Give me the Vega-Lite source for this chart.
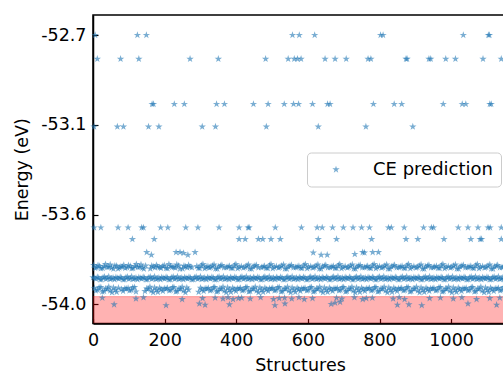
{
"$schema":"https://vega.github.io/schema/vega-lite/v6.json",
"width":414,"height":308.5,
"autosize":{"type":"none"},
"padding":{"left":93,"top":15,"right":0,"bottom":51},
"background":"white",
"config":{"view":{"stroke":"black","strokeWidth":1.5},"font":"DejaVu Sans",
"axis":{"grid":false,"domainColor":"black","domainWidth":1.5,"tickColor":"black","tickWidth":1.2,"tickSize":-5,"labelFont":"DejaVu Sans","titleFont":"DejaVu Sans","labelFontSize":17.5,"titleFontSize":17.5,"titleFontWeight":"normal","labelColor":"black","titleColor":"black","labelFlush":false,"labelOverlap":false}},
"datasets":{"e":[
{"x":6,"y":-52.7},{"x":124,"y":-52.7},{"x":149,"y":-52.7},{"x":557,"y":-52.7},{"x":576,"y":-52.7},{"x":619,"y":-52.7},{"x":803,"y":-52.7},{"x":810,"y":-52.7},{"x":1034,"y":-52.7},{"x":1104,"y":-52.7},{"x":1107,"y":-52.7},
{"x":12,"y":-52.815},{"x":77,"y":-52.815},{"x":128,"y":-52.815},{"x":271,"y":-52.815},{"x":350,"y":-52.815},{"x":482,"y":-52.815},{"x":545,"y":-52.815},{"x":562,"y":-52.815},{"x":571,"y":-52.815},{"x":581,"y":-52.815},{"x":648,"y":-52.815},{"x":676,"y":-52.815},{"x":707,"y":-52.815},{"x":768,"y":-52.815},{"x":776,"y":-52.815},{"x":874,"y":-52.815},{"x":877,"y":-52.815},{"x":938,"y":-52.815},{"x":943,"y":-52.815},{"x":985,"y":-52.815},{"x":1012,"y":-52.815},{"x":1089,"y":-52.815},{"x":1140,"y":-52.815},
{"x":165,"y":-53.033},{"x":169,"y":-53.033},{"x":227,"y":-53.033},{"x":255,"y":-53.033},{"x":345,"y":-53.033},{"x":367,"y":-53.033},{"x":448,"y":-53.033},{"x":489,"y":-53.033},{"x":534,"y":-53.033},{"x":560,"y":-53.033},{"x":574,"y":-53.033},{"x":613,"y":-53.033},{"x":655,"y":-53.033},{"x":662,"y":-53.033},{"x":783,"y":-53.033},{"x":841,"y":-53.033},{"x":862,"y":-53.033},{"x":978,"y":-53.033},{"x":1031,"y":-53.033},{"x":1041,"y":-53.033},{"x":1108,"y":-53.033},{"x":1112,"y":-53.033},
{"x":3,"y":-53.142},{"x":68,"y":-53.142},{"x":85,"y":-53.142},{"x":155,"y":-53.142},{"x":184,"y":-53.142},{"x":305,"y":-53.142},{"x":342,"y":-53.142},{"x":484,"y":-53.142},{"x":629,"y":-53.142},{"x":762,"y":-53.142},{"x":893,"y":-53.142},
{"x":3,"y":-53.629},{"x":22,"y":-53.629},{"x":70,"y":-53.629},{"x":98,"y":-53.629},{"x":136,"y":-53.629},{"x":141,"y":-53.629},{"x":189,"y":-53.629},{"x":209,"y":-53.629},{"x":259,"y":-53.629},{"x":293,"y":-53.629},{"x":352,"y":-53.629},{"x":408,"y":-53.629},{"x":433,"y":-53.629},{"x":436,"y":-53.629},{"x":509,"y":-53.629},{"x":582,"y":-53.629},{"x":626,"y":-53.629},{"x":640,"y":-53.629},{"x":669,"y":-53.629},{"x":699,"y":-53.629},{"x":726,"y":-53.629},{"x":750,"y":-53.629},{"x":772,"y":-53.629},{"x":825,"y":-53.629},{"x":833,"y":-53.629},{"x":869,"y":-53.629},{"x":923,"y":-53.629},{"x":945,"y":-53.629},{"x":951,"y":-53.629},{"x":1020,"y":-53.629},{"x":1047,"y":-53.629},{"x":1075,"y":-53.629},{"x":1103,"y":-53.629},{"x":1109,"y":-53.629},{"x":1140,"y":-53.629},
{"x":110,"y":-53.685},{"x":171,"y":-53.685},{"x":408,"y":-53.685},{"x":425,"y":-53.685},{"x":462,"y":-53.685},{"x":474,"y":-53.685},{"x":497,"y":-53.685},{"x":523,"y":-53.685},{"x":629,"y":-53.685},{"x":680,"y":-53.685},{"x":778,"y":-53.685},{"x":874,"y":-53.685},{"x":907,"y":-53.685},{"x":980,"y":-53.685},{"x":1055,"y":-53.685},{"x":1081,"y":-53.685},{"x":1085,"y":-53.685},{"x":1140,"y":-53.685},
{"x":150,"y":-53.748},{"x":163,"y":-53.761},{"x":232,"y":-53.748},{"x":243,"y":-53.748},{"x":253,"y":-53.752},{"x":265,"y":-53.761},{"x":285,"y":-53.748},{"x":615,"y":-53.75},{"x":637,"y":-53.761},{"x":654,"y":-53.761},{"x":731,"y":-53.757},{"x":753,"y":-53.748},{"x":758,"y":-53.75},{"x":781,"y":-53.748},{"x":797,"y":-53.748},
{"x":2,"y":-53.81},{"x":10,"y":-53.821},{"x":18,"y":-53.815},{"x":27,"y":-53.825},{"x":35,"y":-53.806},{"x":44,"y":-53.819},{"x":52,"y":-53.823},{"x":61,"y":-53.813},{"x":70,"y":-53.827},{"x":78,"y":-53.817},
{"x":86,"y":-53.81},{"x":95,"y":-53.821},{"x":104,"y":-53.815},{"x":112,"y":-53.825},{"x":121,"y":-53.806},{"x":130,"y":-53.819},{"x":138,"y":-53.823},{"x":147,"y":-53.813},{"x":160,"y":-53.827},{"x":168,"y":-53.817},
{"x":177,"y":-53.81},{"x":186,"y":-53.821},{"x":195,"y":-53.815},{"x":204,"y":-53.825},{"x":212,"y":-53.806},{"x":221,"y":-53.819},{"x":230,"y":-53.823},{"x":239,"y":-53.813},{"x":250,"y":-53.827},{"x":258,"y":-53.817},
{"x":267,"y":-53.81},{"x":276,"y":-53.821},{"x":290,"y":-53.815},{"x":298,"y":-53.825},{"x":307,"y":-53.806},{"x":316,"y":-53.819},{"x":325,"y":-53.823},{"x":334,"y":-53.813},{"x":342,"y":-53.827},{"x":351,"y":-53.817},
{"x":360,"y":-53.81},{"x":372,"y":-53.821},{"x":381,"y":-53.815},{"x":390,"y":-53.825},{"x":399,"y":-53.806},{"x":408,"y":-53.819},{"x":420,"y":-53.823},{"x":430,"y":-53.813},{"x":438,"y":-53.827},{"x":447,"y":-53.817},
{"x":456,"y":-53.81},{"x":470,"y":-53.821},{"x":479,"y":-53.815},{"x":488,"y":-53.825},{"x":497,"y":-53.806},{"x":506,"y":-53.819},{"x":518,"y":-53.823},{"x":527,"y":-53.813},{"x":536,"y":-53.827},{"x":545,"y":-53.817},
{"x":554,"y":-53.81},{"x":566,"y":-53.821},{"x":575,"y":-53.815},{"x":584,"y":-53.825},{"x":593,"y":-53.806},{"x":602,"y":-53.819},{"x":614,"y":-53.823},{"x":623,"y":-53.813},{"x":632,"y":-53.827},{"x":641,"y":-53.817},
{"x":650,"y":-53.81},{"x":662,"y":-53.821},{"x":671,"y":-53.815},{"x":680,"y":-53.825},{"x":689,"y":-53.806},{"x":698,"y":-53.819},{"x":710,"y":-53.823},{"x":719,"y":-53.813},{"x":728,"y":-53.827},{"x":737,"y":-53.817},
{"x":746,"y":-53.81},{"x":758,"y":-53.821},{"x":767,"y":-53.815},{"x":776,"y":-53.825},{"x":785,"y":-53.806},{"x":794,"y":-53.819},{"x":806,"y":-53.823},{"x":815,"y":-53.813},{"x":824,"y":-53.827},{"x":833,"y":-53.817},
{"x":842,"y":-53.81},{"x":854,"y":-53.821},{"x":863,"y":-53.815},{"x":872,"y":-53.825},{"x":881,"y":-53.806},{"x":890,"y":-53.819},{"x":902,"y":-53.823},{"x":911,"y":-53.813},{"x":920,"y":-53.827},{"x":929,"y":-53.817},
{"x":938,"y":-53.81},{"x":950,"y":-53.821},{"x":959,"y":-53.815},{"x":968,"y":-53.825},{"x":977,"y":-53.806},{"x":986,"y":-53.819},{"x":998,"y":-53.823},{"x":1007,"y":-53.813},{"x":1016,"y":-53.827},{"x":1025,"y":-53.817},
{"x":1034,"y":-53.81},{"x":1046,"y":-53.821},{"x":1055,"y":-53.815},{"x":1064,"y":-53.825},{"x":1073,"y":-53.806},{"x":1082,"y":-53.819},{"x":1094,"y":-53.823},{"x":1103,"y":-53.813},{"x":1112,"y":-53.827},{"x":1121,"y":-53.817},
{"x":1130,"y":-53.81},{"x":1142,"y":-53.821},{"x":1151,"y":-53.815},
{"x":6,"y":-53.824},{"x":14,"y":-53.811},{"x":22,"y":-53.826},{"x":31,"y":-53.816},{"x":40,"y":-53.82},{"x":48,"y":-53.808},{"x":57,"y":-53.828},{"x":66,"y":-53.814},{"x":74,"y":-53.822},{"x":82,"y":-53.818},
{"x":90,"y":-53.824},{"x":99,"y":-53.811},{"x":108,"y":-53.826},{"x":117,"y":-53.816},{"x":125,"y":-53.82},{"x":134,"y":-53.808},{"x":142,"y":-53.828},{"x":164,"y":-53.814},{"x":173,"y":-53.822},{"x":181,"y":-53.818},
{"x":190,"y":-53.824},{"x":199,"y":-53.811},{"x":208,"y":-53.826},{"x":217,"y":-53.816},{"x":226,"y":-53.82},{"x":234,"y":-53.808},{"x":243,"y":-53.828},{"x":254,"y":-53.814},{"x":263,"y":-53.822},{"x":271,"y":-53.818},
{"x":294,"y":-53.824},{"x":303,"y":-53.811},{"x":312,"y":-53.826},{"x":321,"y":-53.816},{"x":329,"y":-53.82},{"x":338,"y":-53.808},{"x":347,"y":-53.828},{"x":356,"y":-53.814},{"x":366,"y":-53.822},{"x":377,"y":-53.818},
{"x":386,"y":-53.824},{"x":395,"y":-53.811},{"x":404,"y":-53.826},{"x":414,"y":-53.816},{"x":425,"y":-53.82},{"x":434,"y":-53.808},{"x":443,"y":-53.828},{"x":452,"y":-53.814},{"x":462,"y":-53.822},{"x":475,"y":-53.818},
{"x":484,"y":-53.824},{"x":493,"y":-53.811},{"x":502,"y":-53.826},{"x":512,"y":-53.816},{"x":522,"y":-53.82},{"x":532,"y":-53.808},{"x":541,"y":-53.828},{"x":550,"y":-53.814},{"x":560,"y":-53.822},{"x":570,"y":-53.818},
{"x":580,"y":-53.824},{"x":589,"y":-53.811},{"x":598,"y":-53.826},{"x":608,"y":-53.816},{"x":618,"y":-53.82},{"x":628,"y":-53.808},{"x":637,"y":-53.828},{"x":646,"y":-53.814},{"x":656,"y":-53.822},{"x":667,"y":-53.818},
{"x":676,"y":-53.824},{"x":685,"y":-53.811},{"x":694,"y":-53.826},{"x":704,"y":-53.816},{"x":714,"y":-53.82},{"x":724,"y":-53.808},{"x":733,"y":-53.828},{"x":742,"y":-53.814},{"x":752,"y":-53.822},{"x":763,"y":-53.818},
{"x":772,"y":-53.824},{"x":781,"y":-53.811},{"x":790,"y":-53.826},{"x":800,"y":-53.816},{"x":810,"y":-53.82},{"x":820,"y":-53.808},{"x":829,"y":-53.828},{"x":838,"y":-53.814},{"x":848,"y":-53.822},{"x":858,"y":-53.818},
{"x":868,"y":-53.824},{"x":877,"y":-53.811},{"x":886,"y":-53.826},{"x":896,"y":-53.816},{"x":906,"y":-53.82},{"x":916,"y":-53.808},{"x":925,"y":-53.828},{"x":934,"y":-53.814},{"x":944,"y":-53.822},{"x":954,"y":-53.818},
{"x":964,"y":-53.824},{"x":973,"y":-53.811},{"x":982,"y":-53.826},{"x":992,"y":-53.816},{"x":1002,"y":-53.82},{"x":1012,"y":-53.808},{"x":1021,"y":-53.828},{"x":1030,"y":-53.814},{"x":1040,"y":-53.822},{"x":1050,"y":-53.818},
{"x":1060,"y":-53.824},{"x":1069,"y":-53.811},{"x":1078,"y":-53.826},{"x":1088,"y":-53.816},{"x":1098,"y":-53.82},{"x":1108,"y":-53.808},{"x":1117,"y":-53.828},{"x":1126,"y":-53.814},{"x":1136,"y":-53.822},{"x":1146,"y":-53.818},
{"x":0,"y":-53.869},{"x":8,"y":-53.876},{"x":16,"y":-53.872},{"x":24,"y":-53.879},{"x":32,"y":-53.867},{"x":40,"y":-53.874},{"x":48,"y":-53.878},{"x":56,"y":-53.871},
{"x":64,"y":-53.869},{"x":72,"y":-53.876},{"x":80,"y":-53.872},{"x":88,"y":-53.879},{"x":96,"y":-53.867},{"x":104,"y":-53.874},{"x":112,"y":-53.878},{"x":120,"y":-53.871},
{"x":128,"y":-53.869},{"x":136,"y":-53.876},{"x":144,"y":-53.872},{"x":152,"y":-53.879},{"x":160,"y":-53.867},{"x":168,"y":-53.874},{"x":176,"y":-53.878},{"x":184,"y":-53.871},
{"x":192,"y":-53.869},{"x":200,"y":-53.876},{"x":208,"y":-53.872},{"x":216,"y":-53.879},{"x":224,"y":-53.867},{"x":232,"y":-53.874},{"x":240,"y":-53.878},{"x":248,"y":-53.871},
{"x":256,"y":-53.869},{"x":264,"y":-53.876},{"x":272,"y":-53.872},{"x":280,"y":-53.879},{"x":288,"y":-53.867},{"x":296,"y":-53.874},{"x":304,"y":-53.878},{"x":312,"y":-53.871},
{"x":320,"y":-53.869},{"x":328,"y":-53.876},{"x":336,"y":-53.872},{"x":344,"y":-53.879},{"x":352,"y":-53.867},{"x":360,"y":-53.874},{"x":368,"y":-53.878},{"x":376,"y":-53.871},
{"x":384,"y":-53.869},{"x":392,"y":-53.876},{"x":400,"y":-53.872},{"x":408,"y":-53.879},{"x":416,"y":-53.867},{"x":424,"y":-53.874},{"x":432,"y":-53.878},{"x":440,"y":-53.871},
{"x":448,"y":-53.869},{"x":456,"y":-53.876},{"x":464,"y":-53.872},{"x":472,"y":-53.879},{"x":480,"y":-53.867},{"x":488,"y":-53.874},{"x":496,"y":-53.878},{"x":504,"y":-53.871},
{"x":512,"y":-53.869},{"x":520,"y":-53.876},{"x":528,"y":-53.872},{"x":536,"y":-53.879},{"x":544,"y":-53.867},{"x":552,"y":-53.874},{"x":560,"y":-53.878},{"x":568,"y":-53.871},
{"x":576,"y":-53.869},{"x":584,"y":-53.876},{"x":592,"y":-53.872},{"x":600,"y":-53.879},{"x":608,"y":-53.867},{"x":616,"y":-53.874},{"x":624,"y":-53.878},{"x":632,"y":-53.871},
{"x":640,"y":-53.869},{"x":648,"y":-53.876},{"x":656,"y":-53.872},{"x":664,"y":-53.879},{"x":672,"y":-53.867},{"x":680,"y":-53.874},{"x":688,"y":-53.878},{"x":696,"y":-53.871},
{"x":704,"y":-53.869},{"x":712,"y":-53.876},{"x":720,"y":-53.872},{"x":728,"y":-53.879},{"x":736,"y":-53.867},{"x":744,"y":-53.874},{"x":752,"y":-53.878},{"x":760,"y":-53.871},
{"x":768,"y":-53.869},{"x":776,"y":-53.876},{"x":784,"y":-53.872},{"x":792,"y":-53.879},{"x":800,"y":-53.867},{"x":808,"y":-53.874},{"x":816,"y":-53.878},{"x":824,"y":-53.871},
{"x":832,"y":-53.869},{"x":840,"y":-53.876},{"x":848,"y":-53.872},{"x":856,"y":-53.879},{"x":864,"y":-53.867},{"x":872,"y":-53.874},{"x":880,"y":-53.878},{"x":888,"y":-53.871},
{"x":896,"y":-53.869},{"x":904,"y":-53.876},{"x":912,"y":-53.872},{"x":920,"y":-53.879},{"x":928,"y":-53.867},{"x":936,"y":-53.874},{"x":944,"y":-53.878},{"x":952,"y":-53.871},
{"x":960,"y":-53.869},{"x":968,"y":-53.876},{"x":976,"y":-53.872},{"x":984,"y":-53.879},{"x":992,"y":-53.867},{"x":1000,"y":-53.874},{"x":1008,"y":-53.878},{"x":1016,"y":-53.871},
{"x":1024,"y":-53.869},{"x":1032,"y":-53.876},{"x":1040,"y":-53.872},{"x":1048,"y":-53.879},{"x":1056,"y":-53.867},{"x":1064,"y":-53.874},{"x":1072,"y":-53.878},{"x":1080,"y":-53.871},
{"x":1088,"y":-53.869},{"x":1096,"y":-53.876},{"x":1104,"y":-53.872},{"x":1112,"y":-53.879},{"x":1120,"y":-53.867},{"x":1128,"y":-53.874},{"x":1136,"y":-53.878},{"x":1144,"y":-53.871},{"x":1152,"y":-53.869},
{"x":4,"y":-53.873},{"x":12,"y":-53.868},{"x":20,"y":-53.88},{"x":28,"y":-53.87},{"x":36,"y":-53.877},{"x":44,"y":-53.866},{"x":52,"y":-53.875},{"x":60,"y":-53.879},
{"x":68,"y":-53.873},{"x":76,"y":-53.868},{"x":84,"y":-53.88},{"x":92,"y":-53.87},{"x":100,"y":-53.877},{"x":108,"y":-53.866},{"x":116,"y":-53.875},{"x":124,"y":-53.879},
{"x":132,"y":-53.873},{"x":140,"y":-53.868},{"x":148,"y":-53.88},{"x":156,"y":-53.87},{"x":164,"y":-53.877},{"x":172,"y":-53.866},{"x":180,"y":-53.875},{"x":188,"y":-53.879},
{"x":196,"y":-53.873},{"x":204,"y":-53.868},{"x":212,"y":-53.88},{"x":220,"y":-53.87},{"x":228,"y":-53.877},{"x":236,"y":-53.866},{"x":244,"y":-53.875},{"x":252,"y":-53.879},
{"x":260,"y":-53.873},{"x":268,"y":-53.868},{"x":276,"y":-53.88},{"x":284,"y":-53.87},{"x":292,"y":-53.877},{"x":300,"y":-53.866},{"x":308,"y":-53.875},{"x":316,"y":-53.879},
{"x":324,"y":-53.873},{"x":332,"y":-53.868},{"x":340,"y":-53.88},{"x":348,"y":-53.87},{"x":356,"y":-53.877},{"x":364,"y":-53.866},{"x":372,"y":-53.875},{"x":380,"y":-53.879},
{"x":388,"y":-53.873},{"x":396,"y":-53.868},{"x":404,"y":-53.88},{"x":412,"y":-53.87},{"x":420,"y":-53.877},{"x":428,"y":-53.866},{"x":436,"y":-53.875},{"x":444,"y":-53.879},
{"x":452,"y":-53.873},{"x":460,"y":-53.868},{"x":468,"y":-53.88},{"x":476,"y":-53.87},{"x":484,"y":-53.877},{"x":492,"y":-53.866},{"x":500,"y":-53.875},{"x":508,"y":-53.879},
{"x":516,"y":-53.873},{"x":524,"y":-53.868},{"x":532,"y":-53.88},{"x":540,"y":-53.87},{"x":548,"y":-53.877},{"x":556,"y":-53.866},{"x":564,"y":-53.875},{"x":572,"y":-53.879},
{"x":580,"y":-53.873},{"x":588,"y":-53.868},{"x":596,"y":-53.88},{"x":604,"y":-53.87},{"x":612,"y":-53.877},{"x":620,"y":-53.866},{"x":628,"y":-53.875},{"x":636,"y":-53.879},
{"x":644,"y":-53.873},{"x":652,"y":-53.868},{"x":660,"y":-53.88},{"x":668,"y":-53.87},{"x":676,"y":-53.877},{"x":684,"y":-53.866},{"x":692,"y":-53.875},{"x":700,"y":-53.879},
{"x":708,"y":-53.873},{"x":716,"y":-53.868},{"x":724,"y":-53.88},{"x":732,"y":-53.87},{"x":740,"y":-53.877},{"x":748,"y":-53.866},{"x":756,"y":-53.875},{"x":764,"y":-53.879},
{"x":772,"y":-53.873},{"x":780,"y":-53.868},{"x":788,"y":-53.88},{"x":796,"y":-53.87},{"x":804,"y":-53.877},{"x":812,"y":-53.866},{"x":820,"y":-53.875},{"x":828,"y":-53.879},
{"x":836,"y":-53.873},{"x":844,"y":-53.868},{"x":852,"y":-53.88},{"x":860,"y":-53.87},{"x":868,"y":-53.877},{"x":876,"y":-53.866},{"x":884,"y":-53.875},{"x":892,"y":-53.879},
{"x":900,"y":-53.873},{"x":908,"y":-53.868},{"x":916,"y":-53.88},{"x":924,"y":-53.87},{"x":932,"y":-53.877},{"x":940,"y":-53.866},{"x":948,"y":-53.875},{"x":956,"y":-53.879},
{"x":964,"y":-53.873},{"x":972,"y":-53.868},{"x":980,"y":-53.88},{"x":988,"y":-53.87},{"x":996,"y":-53.877},{"x":1004,"y":-53.866},{"x":1012,"y":-53.875},{"x":1020,"y":-53.879},
{"x":1028,"y":-53.873},{"x":1036,"y":-53.868},{"x":1044,"y":-53.88},{"x":1052,"y":-53.87},{"x":1060,"y":-53.877},{"x":1068,"y":-53.866},{"x":1076,"y":-53.875},{"x":1084,"y":-53.879},
{"x":1092,"y":-53.873},{"x":1100,"y":-53.868},{"x":1108,"y":-53.88},{"x":1116,"y":-53.87},{"x":1124,"y":-53.877},{"x":1132,"y":-53.866},{"x":1140,"y":-53.875},{"x":1148,"y":-53.879},
{"x":4,"y":-53.921},{"x":13,"y":-53.93},{"x":22,"y":-53.917},{"x":31,"y":-53.936},{"x":40,"y":-53.925},{"x":48,"y":-53.933},{"x":57,"y":-53.919},{"x":66,"y":-53.94},{"x":80,"y":-53.927},{"x":89,"y":-53.923},
{"x":98,"y":-53.921},{"x":107,"y":-53.93},{"x":116,"y":-53.917},{"x":145,"y":-53.936},{"x":154,"y":-53.925},{"x":163,"y":-53.933},{"x":172,"y":-53.919},{"x":181,"y":-53.94},{"x":190,"y":-53.927},{"x":199,"y":-53.923},
{"x":208,"y":-53.921},{"x":217,"y":-53.93},{"x":226,"y":-53.917},{"x":235,"y":-53.936},{"x":244,"y":-53.925},{"x":253,"y":-53.933},{"x":262,"y":-53.919},{"x":295,"y":-53.94},{"x":304,"y":-53.927},{"x":313,"y":-53.923},
{"x":322,"y":-53.921},{"x":331,"y":-53.93},{"x":340,"y":-53.917},{"x":349,"y":-53.936},{"x":358,"y":-53.925},{"x":367,"y":-53.933},{"x":376,"y":-53.919},{"x":385,"y":-53.94},{"x":394,"y":-53.927},{"x":403,"y":-53.923},
{"x":412,"y":-53.921},{"x":421,"y":-53.93},{"x":430,"y":-53.917},{"x":439,"y":-53.936},{"x":448,"y":-53.925},{"x":457,"y":-53.933},{"x":466,"y":-53.919},{"x":475,"y":-53.94},{"x":484,"y":-53.927},{"x":493,"y":-53.923},
{"x":502,"y":-53.921},{"x":511,"y":-53.93},{"x":520,"y":-53.917},{"x":529,"y":-53.936},{"x":538,"y":-53.925},{"x":547,"y":-53.933},{"x":556,"y":-53.919},{"x":565,"y":-53.94},{"x":574,"y":-53.927},{"x":583,"y":-53.923},
{"x":592,"y":-53.921},{"x":601,"y":-53.93},{"x":610,"y":-53.917},{"x":619,"y":-53.936},{"x":628,"y":-53.925},{"x":637,"y":-53.933},{"x":646,"y":-53.919},{"x":655,"y":-53.94},{"x":664,"y":-53.927},{"x":673,"y":-53.923},
{"x":682,"y":-53.921},{"x":691,"y":-53.93},{"x":700,"y":-53.917},{"x":709,"y":-53.936},{"x":718,"y":-53.925},{"x":727,"y":-53.933},{"x":736,"y":-53.919},{"x":745,"y":-53.94},{"x":754,"y":-53.927},{"x":763,"y":-53.923},
{"x":772,"y":-53.921},{"x":781,"y":-53.93},{"x":790,"y":-53.917},{"x":799,"y":-53.936},{"x":808,"y":-53.925},{"x":817,"y":-53.933},{"x":826,"y":-53.919},{"x":835,"y":-53.94},{"x":844,"y":-53.927},{"x":853,"y":-53.923},
{"x":862,"y":-53.921},{"x":871,"y":-53.93},{"x":880,"y":-53.917},{"x":889,"y":-53.936},{"x":898,"y":-53.925},{"x":907,"y":-53.933},{"x":916,"y":-53.919},{"x":925,"y":-53.94},{"x":934,"y":-53.927},{"x":943,"y":-53.923},
{"x":952,"y":-53.921},{"x":961,"y":-53.93},{"x":970,"y":-53.917},{"x":979,"y":-53.936},{"x":988,"y":-53.925},{"x":997,"y":-53.933},{"x":1006,"y":-53.919},{"x":1015,"y":-53.94},{"x":1024,"y":-53.927},{"x":1033,"y":-53.923},
{"x":1042,"y":-53.921},{"x":1051,"y":-53.93},{"x":1060,"y":-53.917},{"x":1069,"y":-53.936},{"x":1078,"y":-53.925},{"x":1087,"y":-53.933},{"x":1096,"y":-53.919},{"x":1105,"y":-53.94},{"x":1114,"y":-53.927},{"x":1123,"y":-53.923},
{"x":1132,"y":-53.921},{"x":1141,"y":-53.93},{"x":1150,"y":-53.917},
{"x":8,"y":-53.933},{"x":17,"y":-53.918},{"x":26,"y":-53.938},{"x":35,"y":-53.924},{"x":44,"y":-53.915},{"x":53,"y":-53.942},{"x":62,"y":-53.929},{"x":71,"y":-53.92},{"x":84,"y":-53.935},{"x":93,"y":-53.924},
{"x":102,"y":-53.933},{"x":111,"y":-53.918},{"x":120,"y":-53.938},{"x":150,"y":-53.924},{"x":159,"y":-53.915},{"x":168,"y":-53.942},{"x":177,"y":-53.929},{"x":186,"y":-53.92},{"x":195,"y":-53.935},{"x":204,"y":-53.924},
{"x":213,"y":-53.933},{"x":222,"y":-53.918},{"x":231,"y":-53.938},{"x":240,"y":-53.924},{"x":249,"y":-53.915},{"x":258,"y":-53.942},{"x":267,"y":-53.929},{"x":300,"y":-53.92},{"x":309,"y":-53.935},{"x":318,"y":-53.924},
{"x":327,"y":-53.933},{"x":336,"y":-53.918},{"x":345,"y":-53.938},{"x":354,"y":-53.924},{"x":363,"y":-53.915},{"x":372,"y":-53.942},{"x":381,"y":-53.929},{"x":390,"y":-53.92},{"x":399,"y":-53.935},{"x":408,"y":-53.924},
{"x":417,"y":-53.933},{"x":426,"y":-53.918},{"x":435,"y":-53.938},{"x":444,"y":-53.924},{"x":453,"y":-53.915},{"x":462,"y":-53.942},{"x":471,"y":-53.929},{"x":480,"y":-53.92},{"x":489,"y":-53.935},{"x":498,"y":-53.924},
{"x":507,"y":-53.933},{"x":516,"y":-53.918},{"x":525,"y":-53.938},{"x":534,"y":-53.924},{"x":543,"y":-53.915},{"x":552,"y":-53.942},{"x":561,"y":-53.929},{"x":570,"y":-53.92},{"x":579,"y":-53.935},{"x":588,"y":-53.924},
{"x":597,"y":-53.933},{"x":606,"y":-53.918},{"x":615,"y":-53.938},{"x":624,"y":-53.924},{"x":633,"y":-53.915},{"x":642,"y":-53.942},{"x":651,"y":-53.929},{"x":660,"y":-53.92},{"x":669,"y":-53.935},{"x":678,"y":-53.924},
{"x":687,"y":-53.933},{"x":696,"y":-53.918},{"x":705,"y":-53.938},{"x":714,"y":-53.924},{"x":723,"y":-53.915},{"x":732,"y":-53.942},{"x":741,"y":-53.929},{"x":750,"y":-53.92},{"x":759,"y":-53.935},{"x":768,"y":-53.924},
{"x":777,"y":-53.933},{"x":786,"y":-53.918},{"x":795,"y":-53.938},{"x":804,"y":-53.924},{"x":813,"y":-53.915},{"x":822,"y":-53.942},{"x":831,"y":-53.929},{"x":840,"y":-53.92},{"x":849,"y":-53.935},{"x":858,"y":-53.924},
{"x":867,"y":-53.933},{"x":876,"y":-53.918},{"x":885,"y":-53.938},{"x":894,"y":-53.924},{"x":903,"y":-53.915},{"x":912,"y":-53.942},{"x":921,"y":-53.929},{"x":930,"y":-53.92},{"x":939,"y":-53.935},{"x":948,"y":-53.924},
{"x":957,"y":-53.933},{"x":966,"y":-53.918},{"x":975,"y":-53.938},{"x":984,"y":-53.924},{"x":993,"y":-53.915},{"x":1002,"y":-53.942},{"x":1011,"y":-53.929},{"x":1020,"y":-53.92},{"x":1029,"y":-53.935},{"x":1038,"y":-53.924},
{"x":1047,"y":-53.933},{"x":1056,"y":-53.918},{"x":1065,"y":-53.938},{"x":1074,"y":-53.924},{"x":1083,"y":-53.915},{"x":1092,"y":-53.942},{"x":1101,"y":-53.929},{"x":1110,"y":-53.92},{"x":1119,"y":-53.935},{"x":1128,"y":-53.924},
{"x":1137,"y":-53.933},{"x":1146,"y":-53.918},{"x":1155,"y":-53.938},
{"x":26,"y":-53.968},{"x":120,"y":-53.972},{"x":141,"y":-53.966},{"x":249,"y":-53.975},{"x":306,"y":-53.97},{"x":341,"y":-53.968},{"x":363,"y":-53.972},{"x":377,"y":-53.966},{"x":391,"y":-53.975},{"x":406,"y":-53.97},{"x":415,"y":-53.968},{"x":439,"y":-53.972},{"x":468,"y":-53.966},{"x":504,"y":-53.975},{"x":520,"y":-53.97},{"x":535,"y":-53.968},{"x":555,"y":-53.972},{"x":575,"y":-53.966},{"x":590,"y":-53.975},{"x":613,"y":-53.97},{"x":680,"y":-53.968},{"x":695,"y":-53.972},{"x":730,"y":-53.966},{"x":753,"y":-53.975},{"x":763,"y":-53.97},{"x":780,"y":-53.968},{"x":838,"y":-53.972},{"x":855,"y":-53.966},{"x":870,"y":-53.975},{"x":940,"y":-53.97},{"x":970,"y":-53.968},{"x":1006,"y":-53.972},{"x":1030,"y":-53.966},{"x":1071,"y":-53.975},{"x":1108,"y":-53.97},{"x":1136,"y":-53.968},
{"x":59,"y":-54.0},{"x":204,"y":-54.004},{"x":297,"y":-53.996},{"x":313,"y":-54.002},{"x":381,"y":-54.0},{"x":508,"y":-54.004},{"x":536,"y":-53.996},{"x":665,"y":-53.998},{"x":676,"y":-53.992},{"x":690,"y":-53.988},{"x":850,"y":-54.002},{"x":882,"y":-54.0},{"x":918,"y":-54.004},{"x":1047,"y":-53.996},{"x":1127,"y":-54.002}
]},
"layer":[
{"data":{"values":[{"lo":-54.0917,"hi":-53.962}]},
 "mark":{"type":"rect","fill":"red","fillOpacity":0.3,"clip":true},
 "encoding":{"y":{"field":"lo","type":"quantitative","scale":{"domain":[-54.0917,-52.6028],"nice":false,"zero":false}},"y2":{"field":"hi"}}},
{"data":{"values":[{"hi":-53.962}]},
 "mark":{"type":"rule","color":"red","opacity":0.35,"strokeWidth":1},
 "encoding":{"y":{"field":"hi","type":"quantitative","scale":{"domain":[-54.0917,-52.6028],"nice":false,"zero":false}}}},
{"data":{"name":"e"},
 "mark":{"type":"point","shape":"M0,-1L0.225,-0.309L0.951,-0.309L0.363,0.118L0.588,0.809L0,0.382L-0.588,0.809L-0.363,0.118L-0.951,-0.309L-0.225,-0.309Z","filled":true,"size":60,"opacity":0.6,"strokeWidth":0},
 "encoding":{
  "x":{"field":"x","type":"quantitative","title":"Structures","scale":{"domain":[0,1156],"nice":false,"zero":false},
       "axis":{"values":[0,200,400,600,800,1000],"format":"d","labelPadding":13,"titlePadding":7}},
  "y":{"field":"y","type":"quantitative","title":"Energy (eV)","scale":{"domain":[-54.0917,-52.6028],"nice":false,"zero":false},
       "axis":{"values":[-54.0,-53.5667,-53.1333,-52.7],"labelExpr":"replace(format(datum.value,'.1f'),'\u2212','-')","labelPadding":12,"titlePadding":9}},
  "color":{"datum":"CE prediction","type":"nominal","scale":{"range":["#1f77b4"]},
   "legend":{"orient":"none","legendX":214,"legendY":137.5,"title":null,"padding":8,"strokeColor":"#cccccc","fillColor":"white","cornerRadius":4,"labelFontSize":18,"labelFont":"DejaVu Sans","labelColor":"black","symbolType":"M0,-1L0.225,-0.309L0.951,-0.309L0.363,0.118L0.588,0.809L0,0.382L-0.588,0.809L-0.363,0.118L-0.951,-0.309L-0.225,-0.309Z","symbolSize":60,"symbolOpacity":0.6,"symbolStrokeWidth":0,"symbolOffset":12,"labelOffset":28}}
 }}
]
}
